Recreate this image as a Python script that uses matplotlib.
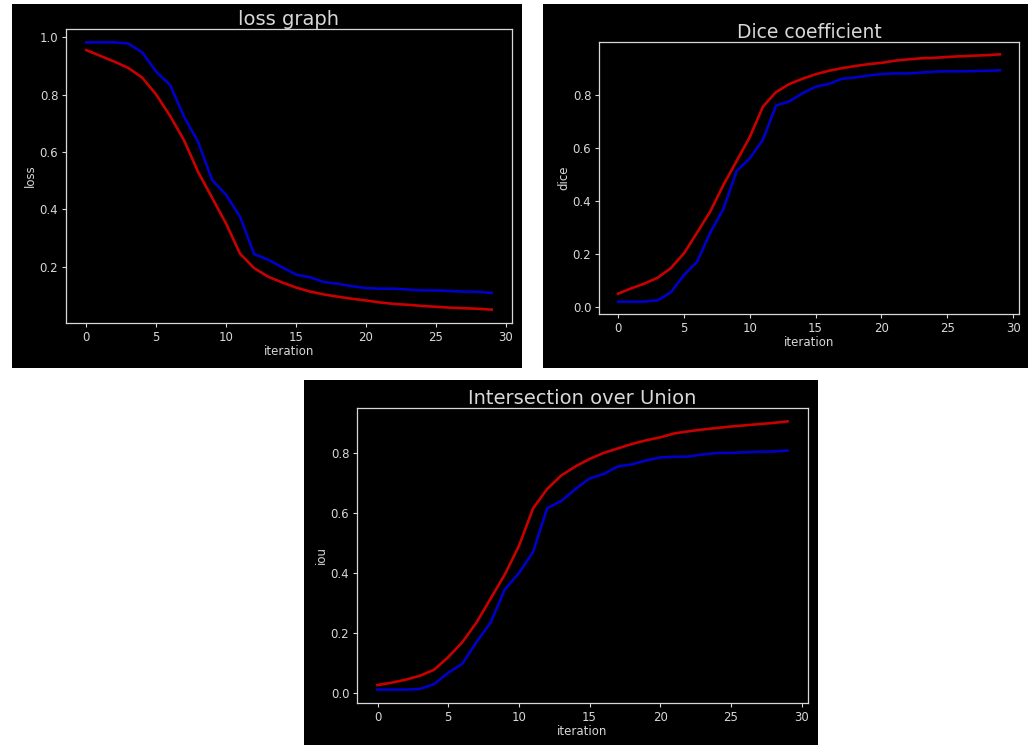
import matplotlib
matplotlib.use("Agg")
import matplotlib.pyplot as plt
from matplotlib.patches import Rectangle

iterations = list(range(30))

loss_blue = [0.982, 0.982, 0.982, 0.978, 0.947, 0.880, 0.833, 0.722, 0.635, 0.502,
             0.450, 0.374, 0.244, 0.224, 0.198, 0.172, 0.163, 0.146, 0.140, 0.132,
             0.125, 0.123, 0.123, 0.120, 0.117, 0.117, 0.115, 0.113, 0.112, 0.108]
loss_red = [0.955, 0.935, 0.915, 0.893, 0.859, 0.800, 0.725, 0.640, 0.530, 0.440,
            0.350, 0.245, 0.195, 0.165, 0.145, 0.127, 0.113, 0.103, 0.095, 0.088,
            0.082, 0.075, 0.070, 0.067, 0.063, 0.060, 0.057, 0.055, 0.053, 0.050]

dice_red = [0.050, 0.070, 0.088, 0.110, 0.146, 0.202, 0.280, 0.360, 0.460, 0.550,
            0.640, 0.755, 0.810, 0.840, 0.860, 0.877, 0.890, 0.900, 0.908, 0.915,
            0.920, 0.928, 0.933, 0.937, 0.939, 0.942, 0.945, 0.947, 0.949, 0.952]
dice_blue = [0.020, 0.020, 0.020, 0.025, 0.055, 0.120, 0.170, 0.280, 0.370, 0.512,
             0.560, 0.630, 0.759, 0.775, 0.805, 0.830, 0.840, 0.860, 0.865, 0.872,
             0.878, 0.880, 0.880, 0.883, 0.887, 0.888, 0.888, 0.889, 0.890, 0.892]

iou_red = [0.027, 0.035, 0.045, 0.058, 0.078, 0.120, 0.170, 0.235, 0.315, 0.395,
           0.490, 0.615, 0.680, 0.725, 0.755, 0.780, 0.800, 0.815, 0.830, 0.842,
           0.852, 0.865, 0.872, 0.878, 0.883, 0.888, 0.892, 0.896, 0.900, 0.905]
iou_blue = [0.012, 0.012, 0.012, 0.014, 0.030, 0.068, 0.098, 0.170, 0.235, 0.345,
            0.400, 0.470, 0.616, 0.640, 0.680, 0.715, 0.730, 0.755, 0.762, 0.775,
            0.785, 0.787, 0.788, 0.795, 0.800, 0.800, 0.802, 0.804, 0.805, 0.808]

W, H = 1034, 745
fig = plt.figure(figsize=(W / 100, H / 100), dpi=100, facecolor="white")

FG = "#d8d8d8"
RED = "#c80000"
BLUE = "#0000c8"


def px_rect(x0, y0, x1, y1):
    return [x0 / W, 1 - y1 / H, (x1 - x0) / W, (y1 - y0) / H]


def panel(prect, arect, title, ylabel, red, blue, tsize):
    l, b, w, h = px_rect(*prect)
    fig.add_artist(Rectangle((l, b), w, h, transform=fig.transFigure,
                             facecolor="black", edgecolor="none", zorder=0))
    ax = fig.add_axes(px_rect(*arect))
    ax.set_facecolor("black")
    ax.plot(iterations, blue, color=BLUE, lw=1.9)
    ax.plot(iterations, red, color=RED, lw=1.9)
    ax.set_xticks([0, 5, 10, 15, 20, 25, 30])
    ax.set_title(title, color=FG, fontsize=tsize, pad=3)
    ax.set_xlabel("iteration", color=FG, fontsize=8.5, labelpad=1)
    ax.set_ylabel(ylabel, color=FG, fontsize=8.5, labelpad=2)
    for s in ax.spines.values():
        s.set_color(FG)
        s.set_linewidth(0.9)
    ax.tick_params(colors=FG, labelsize=8.5, length=3, width=0.8, pad=2.5)
    return ax


panel((12, 4, 522, 368), (66, 29, 512, 323), "loss graph", "loss", loss_red, loss_blue, 14)
panel((543, 4, 1028, 368), (599, 42, 1019, 314), "Dice coefficient", "dice", dice_red, dice_blue, 13.5)
panel((304, 380, 818, 745), (357, 408, 808, 703), "Intersection over Union", "iou", iou_red, iou_blue, 14)

fig.savefig("out.png", dpi=100, facecolor="white")
